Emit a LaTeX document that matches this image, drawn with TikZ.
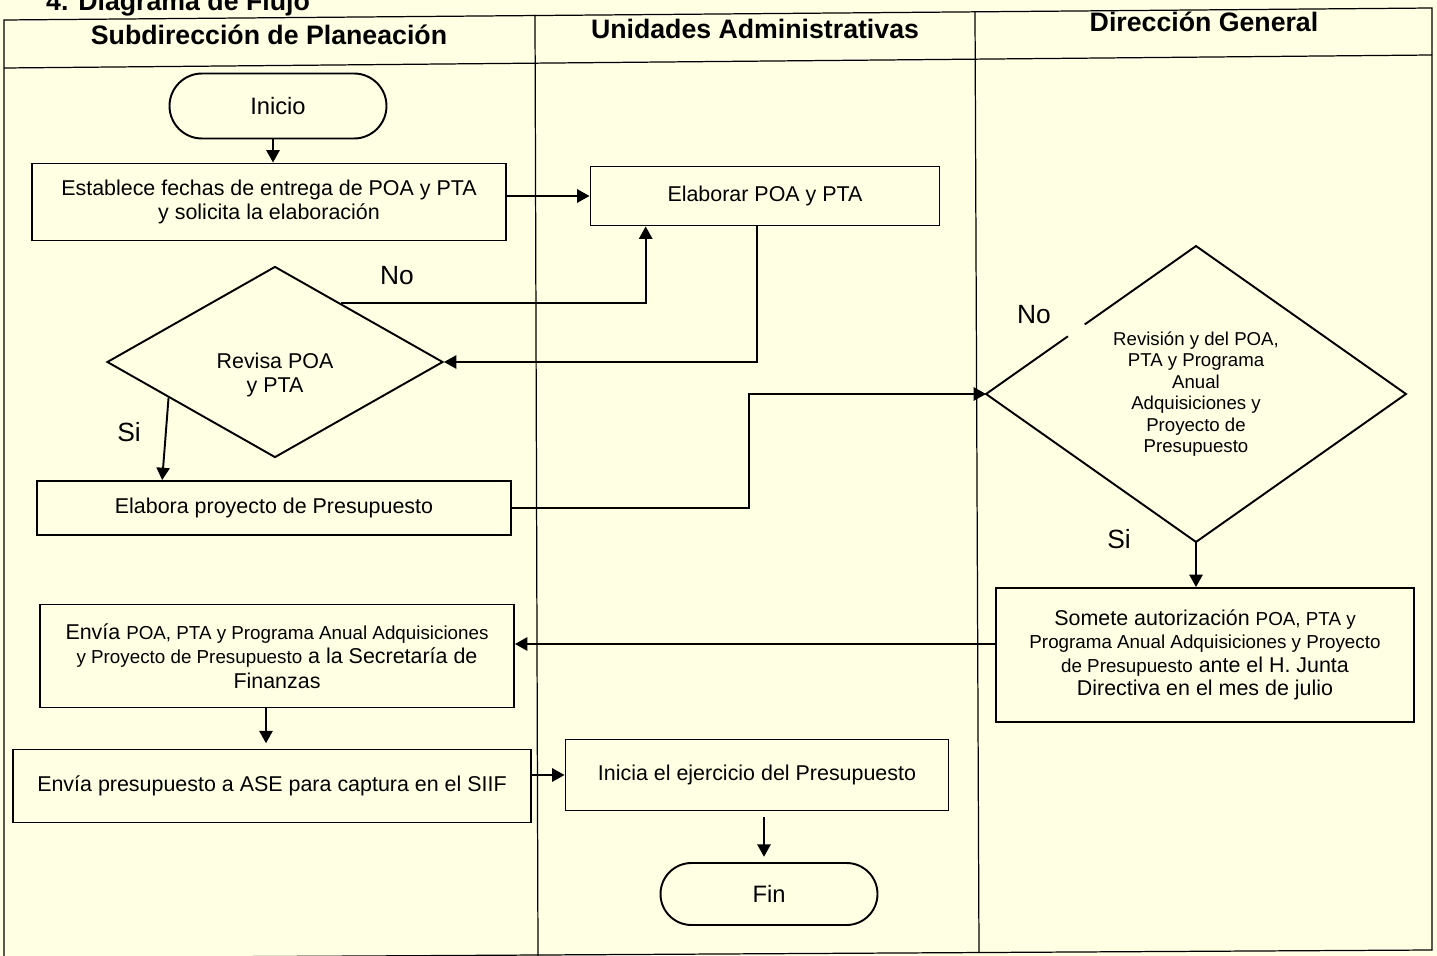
\documentclass[tikz,border=0pt]{standalone}
\usepackage{fontspec}
\setmainfont{Liberation Sans}
\usetikzlibrary{shapes.geometric,shapes.misc,arrows.meta,calc}

\definecolor{paper}{RGB}{255,255,228}
\newcommand{\pxu}{0.02cm}
\newcommand{\smtxt}{\fontsize{10.7}{13}\selectfont}

\begin{document}
\begin{tikzpicture}[x=0.02cm, y=-0.02cm,
        wh/.style 2 args = {minimum width=#1*\pxu, minimum height=#2*\pxu},
        proc/.style = {draw, line width=1.1pt, align=center, inner sep=0pt, font=\fontsize{12.2}{13.8}\selectfont},
        term/.style = {draw, rounded rectangle, line width=1.1pt, inner sep=0pt, font=\fontsize{13.5}{15}\selectfont},
        dec/.style = {diamond, line width=1.1pt, inner sep=0pt, align=center},
        lane/.style = {font=\bfseries\fontsize{15.2}{17}\selectfont},
        lbl/.style = {font=\fontsize{15}{17}\selectfont},
        flow/.style = {line width=1.1pt, -{Triangle[length=7pt,width=7.5pt]}}
        ]
    \useasboundingbox[fill=paper] (0,0) rectangle (1437,956);

    % marco y carriles
    \draw[line width=0.7pt] (4,958) -- (4,20) -- (1432,8) -- (1432,950) -- (4,958);
    \draw[line width=0.7pt] (4,68) -- (1432,55);
    \draw[line width=0.7pt] (535,15) -- (538,956);
    \draw[line width=0.7pt] (975,12) -- (979,953);

    \node[lane, anchor=base west] (titulo) at (40,11) {4. Diagrama de Flujo};
    \node[lane] (subdir) at (269,35) {Subdirección de Planeación};
    \node[lane] (unidades) at (755,29) {Unidades Administrativas};
    \node[lane] (direccion) at (1204,22) {Dirección General};

    % pasos
    \node[term, wh={217}{65}] (inicio) at (278,106) {Inicio};
    \node[proc, wh={474}{77}] (fechas) at (269,202) {Establece fechas de entrega de POA y PTA\\y solicita la elaboración};
    \node[proc, wh={349}{59}] (elaborar) at (765,196) {Elaborar POA y PTA};
    \node[dec, draw, wh={336}{191}] (revisa) at (275,362) {};
    \node[align=center, font=\fontsize{12.2}{13.8}\selectfont] (revisatxt) at (275,375) {Revisa POA\\y PTA};
    \node[proc, wh={474}{54}] (proyecto) at (274,508) {Elabora proyecto de Presupuesto};
    \node[dec, wh={418}{294}, font=\fontsize{10.6}{12.2}\selectfont] (revision) at (1196,394) {Revisión y del POA,\\PTA y Programa\\Anual\\Adquisiciones y\\Proyecto de\\Presupuesto};
    \node[proc, wh={418}{134}, font=\fontsize{12.2}{13.3}\selectfont] (somete) at (1205,655) {Somete autorización {\smtxt POA, PTA y}\\{\smtxt Programa Anual Adquisiciones y Proyecto}\\{\smtxt de Presupuesto} ante el H. Junta\\Directiva en el mes de julio};
    \node[proc, wh={474}{103}, font=\fontsize{12.2}{14}\selectfont] (envia) at (277,656) {Envía {\smtxt POA, PTA y Programa Anual Adquisiciones}\\{\smtxt y Proyecto de Presupuesto} a la Secretaría de\\Finanzas};
    \node[proc, wh={518}{73}] (ase) at (272,786) {Envía presupuesto a ASE para captura en el SIIF};
    \node[proc, wh={383}{71}] (inicia) at (757,775) {Inicia el ejercicio del Presupuesto};
    \node[term, wh={217}{62}] (fin) at (769,894) {Fin};

    % rombo con hueco junto al No
    \draw[line width=1.1pt] ($(revision.west)!0.39!(revision.north)$) -- (revision.west) -- (revision.south)
        -- (revision.east) -- (revision.north) -- ($(revision.west)!0.47!(revision.north)$);

    \node[lbl] (no1) at (397,276) {No};
    \node[lbl] (si1) at (129,432) {Si};
    \node[lbl] (no2) at (1034,315) {No};
    \node[lbl] (si2) at (1119,539) {Si};

    % flechas
    \draw[flow] ($(inicio.south)+(-5,0)$) -- ($(inicio.south |- fechas.north)+(-5,0)$);
    \draw[flow] (elaborar.west -| fechas.east) -- (elaborar.west);
    \draw[flow] ($(revisa.north)!0.39!(revisa.east)$) -| ($(elaborar.south west)!0.16!(elaborar.south east)$);
    \draw[flow] ($(elaborar.south)+(-8,0)$) |- (revisa.east);
    \draw[flow] ($(revisa.west)!0.37!(revisa.south)$) -- ($(proyecto.north west)!0.265!(proyecto.north east)$);
    \draw[flow] (proyecto.east) -- ++(237,0) |- (revision.west);
    \draw[flow] (revision.south) -- (revision.south |- somete.north);
    \draw[flow] ($(somete.west)+(0,-11)$) -- ($(somete.west -| envia.east)+(0,-11)$);
    \draw[flow, shorten >=3pt] ($(envia.south)+(-11,0)$) -- ($(envia.south |- ase.north)+(-11,0)$);
    \draw[flow] (inicia.west -| ase.east) -- (inicia.west);
    \draw[flow, shorten <=3pt, shorten >=3pt] ($(fin.north |- inicia.south)+(-5,0)$) -- ($(fin.north)+(-5,0)$);
\end{tikzpicture}
\end{document}
